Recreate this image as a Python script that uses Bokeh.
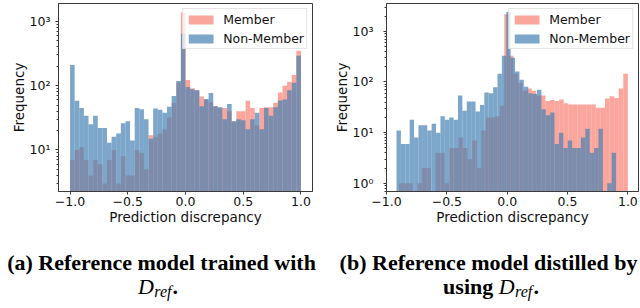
import numpy as np
from bokeh.plotting import figure
from bokeh.layouts import column, row
from bokeh.models import Range1d, FixedTicker, Legend, LegendItem, Label
from bokeh.embed import file_html
from bokeh.resources import INLINE

# ---------------- data (counts per bin) ----------------
series_names = ["Member", "Non-Member"]

# (a) 50 bins over [-1, 1] for both series
a_member_range = (-1.0, 1.0)
a_member = [7, 10, 11, 7, 4, 7, 6, 3, 7, 10,
            3, 8, 4, 4, 10, 9, 5, 17, 16, 18,
            21, 32, 54, 112, 1380, 122, 91, 85, 68, 60,
            55, 48, 45, 45, 40, 28, 40, 40, 58, 45,
            24, 45, 46, 46, 54, 78, 100, 115, 147, 348]
a_nonmember_range = (-1.0, 1.0)
a_nonmember = [210, 58, 45, 34, 25, 34, 22, 22, 13, 16,
               18, 26, 28, 14, 45, 43, 30, 15, 44, 42,
               38, 47, 69, 118, 640, 95, 88, 85, 48, 62,
               77, 48, 46, 30, 52, 28, 30, 29, 21, 30,
               38, 21, 45, 34, 46, 59, 61, 85, 111, 291]

# (b) each series has its own 50 bins
b_member_range = (-0.897, 1.0)
b_member = [1, 1, 1, 0, 1, 2, 2, 0, 4, 4,
            1, 5, 5, 8, 5, 3, 7, 2, 11, 20,
            20, 21, 34, 2160, 330, 145, 96, 67, 74, 67,
            54, 54, 42, 44, 42, 45, 38, 36, 36, 36,
            36, 36, 36, 31, 31, 47, 52, 48, 74, 145]
b_nonmember_range = (-0.917, 0.902)
b_nonmember = [11, 6, 6, 18, 8, 14, 14, 11, 15, 10,
               21, 18, 20, 18, 54, 27, 41, 41, 26, 35,
               62, 60, 79, 145, 327, 2400, 300, 160, 110, 80,
               60, 58, 70, 29, 22, 25, 6, 10, 5, 7,
               5, 5, 8, 12, 4, 5, 12, 0, 1, 4]

x_ticks = [-1.0, -0.5, 0.0, 0.5, 1.0]
x_tick_labels = ["\u22121.0", "\u22120.5", "0.0", "0.5", "1.0"]
y_ticks = [1, 10, 100, 1000]
y_tick_labels = ["10\u2070", "10\u00b9", "10\u00b2", "10\u00b3"]
x_label = "Prediction discrepancy"
y_label = "Frequency"

caption_line1 = ["(a) Reference model trained with", "(b) Reference model distilled by"]
caption_prefix = ["", "using "]
caption_math = "D"
caption_sub = "ref"

# ---------------- styling ----------------
MEMBER_COLOR = "#fa8072"
NONMEMBER_COLOR = "#4682b4"
FONT = "DejaVu Sans"
TEXT_COLOR = "#111111"
SPINE = "#3a3a3a"
HIST_H = 227


def bins(rng, counts):
    edges = np.linspace(rng[0], rng[1], len(counts) + 1)
    c = np.asarray(counts, dtype=float)
    keep = c > 0
    return dict(left=edges[:-1][keep], right=edges[1:][keep], top=c[keep])


def make_hist(member, m_rng, nonmember, n_rng, xr, yr, width, border_left, border_right,
              ylab_standoff, yaxis_label_standoff):
    p = figure(width=width, height=HIST_H, y_axis_type="log",
               x_range=Range1d(*xr), y_range=Range1d(*yr),
               output_backend="svg", toolbar_location=None,
               min_border_left=border_left, min_border_right=border_right,
               min_border_top=3, min_border_bottom=34,
               background_fill_color="white", border_fill_color="white")
    p.grid.visible = False
    p.outline_line_color = SPINE
    p.outline_line_width = 1
    bottom = yr[0] / 10.0
    dm = bins(m_rng, member)
    dn = bins(n_rng, nonmember)
    r1 = p.quad(left=dm["left"], right=dm["right"], top=dm["top"], bottom=bottom,
                fill_color=MEMBER_COLOR, fill_alpha=0.7, line_color=None)
    r2 = p.quad(left=dn["left"], right=dn["right"], top=dn["top"], bottom=bottom,
                fill_color=NONMEMBER_COLOR, fill_alpha=0.7, line_color=None)

    p.xaxis.ticker = FixedTicker(ticks=x_ticks)
    p.xaxis.major_label_overrides = dict(zip(x_ticks, x_tick_labels))
    p.xaxis.axis_label = x_label
    p.xaxis.major_label_standoff = 2
    p.xaxis.axis_label_standoff = 0

    minor = [m * 10.0 ** d for d in range(-1, 4) for m in range(2, 10)]
    p.yaxis.ticker = FixedTicker(ticks=y_ticks, minor_ticks=minor)
    p.yaxis.major_label_overrides = dict(zip(y_ticks, y_tick_labels))
    p.yaxis.axis_label = y_label
    p.yaxis.major_label_standoff = ylab_standoff
    p.yaxis.axis_label_standoff = yaxis_label_standoff

    for ax in (p.xaxis[0], p.yaxis[0]):
        ax.axis_line_color = SPINE
        ax.major_tick_line_color = SPINE
        ax.major_tick_out = 3
        ax.major_tick_in = 0
        ax.minor_tick_out = 2
        ax.minor_tick_in = 0
        ax.major_label_text_font = FONT
        ax.major_label_text_font_size = "12.5px"
        ax.major_label_text_color = TEXT_COLOR
        ax.axis_label_text_font = FONT
        ax.axis_label_text_font_size = "13.5px"
        ax.axis_label_text_font_style = "normal"
        ax.axis_label_text_color = TEXT_COLOR
    p.xaxis.minor_tick_line_color = None
    p.yaxis.minor_tick_line_color = SPINE

    legend = Legend(items=[LegendItem(label=series_names[0], renderers=[r1]),
                           LegendItem(label=series_names[1], renderers=[r2])],
                    location="top_right", margin=5, padding=2, spacing=3,
                    glyph_width=31, glyph_height=11, label_height=16,
                    label_standoff=7,
                    label_text_font=FONT, label_text_font_size="12.5px",
                    label_text_color=TEXT_COLOR,
                    border_line_color="#cccccc", border_line_width=1,
                    background_fill_color="white", background_fill_alpha=0.8)
    p.add_layout(legend)
    return p


p1 = make_hist(a_member, a_member_range, a_nonmember, a_nonmember_range,
               (-1.1, 1.1), (2.26, 1893), 320, 58, 8, 5, 0)
p2 = make_hist(b_member, b_member_range, b_nonmember, b_nonmember_range,
               (-1.0, 1.088), (0.69, 3530), 319, 66, 1, 10, 0)

# ---------------- captions ----------------
CAP_W, CAP_H = 639, 79
cap = figure(width=CAP_W, height=CAP_H, x_range=Range1d(0, CAP_W), y_range=Range1d(0, CAP_H),
             output_backend="svg", toolbar_location=None, min_border=0,
             x_axis_location=None, y_axis_location=None,
             background_fill_color="white", border_fill_color="white")
cap.grid.visible = False
cap.outline_line_color = None

SERIF = "Liberation Serif"
BIG = 22
SUB = 16
line1_centers = [161, 488]
line2_centers = [157, 490]
y_line1, y_line2, y_sub = 44, 20, 15
# approximate advance widths (em) used only to centre the composed second line
prefix_em = {"": 0.0, "using ": 2.529}
for i in range(2):
    cap.add_layout(Label(x=line1_centers[i], y=y_line1, text=caption_line1[i],
                         text_font=SERIF, text_font_size=f"{BIG}px", text_font_style="bold",
                         text_align="center", text_baseline="alphabetic", text_color="black"))
    w_pre = prefix_em[caption_prefix[i]] * BIG
    w_d = 0.722 * BIG
    w_sub = 1.111 * SUB
    w_dot = 0.25 * BIG
    x0 = line2_centers[i] - (w_pre + w_d + w_sub + w_dot) / 2
    if caption_prefix[i]:
        cap.add_layout(Label(x=x0, y=y_line2, text=caption_prefix[i], text_font=SERIF,
                             text_font_size=f"{BIG}px", text_font_style="bold",
                             text_align="left", text_baseline="alphabetic", text_color="black"))
    cap.add_layout(Label(x=x0 + w_pre, y=y_line2, text=caption_math, text_font=SERIF,
                         text_font_size=f"{BIG}px", text_font_style="italic",
                         text_align="left", text_baseline="alphabetic", text_color="black"))
    cap.add_layout(Label(x=x0 + w_pre + w_d + 0.5, y=y_sub, text=caption_sub, text_font=SERIF,
                         text_font_size=f"{SUB}px", text_font_style="italic",
                         text_align="left", text_baseline="alphabetic", text_color="black"))
    cap.add_layout(Label(x=x0 + w_pre + w_d + w_sub + 1, y=y_line2, text=".", text_font=SERIF,
                         text_font_size=f"{BIG}px", text_font_style="bold",
                         text_align="left", text_baseline="alphabetic", text_color="black"))

layout = column(row(p1, p2), cap)

with open("out.html", "w") as f:
    f.write(file_html(layout, INLINE))
